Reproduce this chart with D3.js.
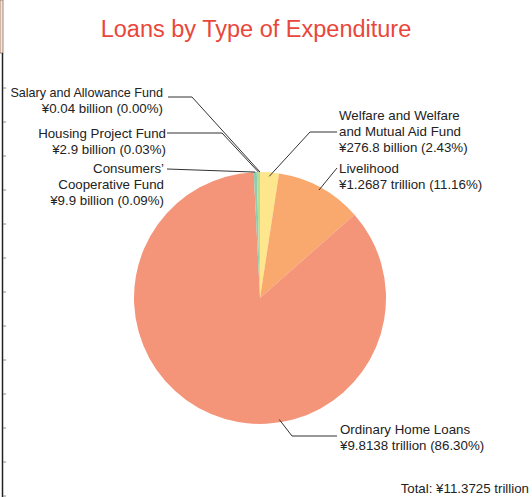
<!DOCTYPE html>
<html>
<head>
<meta charset="utf-8">
<script src="https://cdn.jsdelivr.net/npm/d3@7"></script>
<style>
  body { margin: 0; background: #fff; }
  svg { display: block; font-family: "Liberation Sans", Arial, Helvetica, sans-serif; }
</style>
</head>
<body>
<script>
// data (billions of yen), in drawing order clockwise from 12 o'clock
var categories = ["Welfare and Welfare and Mutual Aid Fund", "Livelihood", "Ordinary Home Loans",
                  "Consumers’ Cooperative Fund", "Housing Project Fund", "Salary and Allowance Fund"];
var values = [276.8, 1268.7, 9813.8, 9.9, 2.9, 0.04];
var amountLabels = ["¥276.8 billion", "¥1.2687 trillion", "¥9.8138 trillion",
                    "¥9.9 billion", "¥2.9 billion", "¥0.04 billion"];
var percentLabels = ["2.43%", "11.16%", "86.30%", "0.09%", "0.03%", "0.00%"];
var nameLines = [["Welfare and Welfare", "and Mutual Aid Fund"], ["Livelihood"], ["Ordinary Home Loans"],
                 ["Consumers’", "Cooperative Fund"], ["Housing Project Fund"], ["Salary and Allowance Fund"]];
var totalLabel = "Total: ¥11.3725 trillion";
var title = "Loans by Type of Expenditure";

var width = 532, height = 497;
var cx = 260, cy = 298, radius = 126;

var colors = d3.scaleOrdinal()
    .domain(categories)
    .range(["#fde68b", "#f9a86e", "#f4957a", "#8ecdab", "#b6dc9c", "#cfe6b0"]);

// label placement: text anchor point, elbow, and where the leader touches the pie
var labelLayout = [
  {x: 339, y: 120, anchor: "start", elbow: [310, 132], start: [337, 132], r: 122},
  {x: 339, y: 173, anchor: "start", elbow: null, start: [337, 168], r: 123},
  {x: 340, y: 434, anchor: "start", elbow: [292, 436], start: [337, 436], r: 123, angle: 171},
  {x: 164, y: 173, anchor: "end", elbow: null, start: [167, 169], r: 126},
  {x: 166, y: 138, anchor: "end", elbow: [222, 133], start: [167, 133], r: 126},
  {x: 163, y: 97, anchor: "end", elbow: [192, 97], start: [168, 97], r: 126, nameSize: 12.6}
];

var svg = d3.select("body").append("svg")
    .attr("width", width)
    .attr("height", height);

// page edge left over from the scan
var edge = svg.append("g");
edge.append("rect").attr("x", 0).attr("y", 0).attr("width", 3).attr("height", 53)
    .attr("fill", "#fbe4d6").attr("stroke", "#8a6f63").attr("stroke-width", 0.8);
edge.append("line").attr("x1", 2.5).attr("x2", 2.5).attr("y1", 53).attr("y2", height)
    .attr("stroke", "#222").attr("stroke-width", 1.5);
edge.selectAll(".tick").data(d3.range(88, height, 34)).enter().append("line")
    .attr("x1", 3).attr("x2", 6).attr("y1", function (d) { return d; }).attr("y2", function (d) { return d; })
    .attr("stroke", "#888").attr("stroke-width", 1);

svg.append("text")
    .attr("x", 256)
    .attr("y", 37)
    .attr("text-anchor", "middle")
    .attr("fill", "#e9473b")
    .style("font-size", "23.5px")
    .text(title);

// tiny (but non-zero %) slices get a minimum sweep so they stay visible
var total = d3.sum(values);
var pie = d3.pie()
    .sort(null)
    .value(function (d, i) {
      var v = values[i];
      return v / total >= 0.00005 ? Math.max(v, total * 0.004) : v;
    });
var arcs = pie(categories);

var arc = d3.arc().innerRadius(0).outerRadius(radius);

var g = svg.append("g").attr("transform", "translate(" + cx + "," + cy + ")");
g.selectAll("path").data(arcs).enter().append("path")
    .attr("d", arc)
    .attr("fill", function (d) { return colors(d.data); });

// leader lines
function pointAt(angleRad, r) {
  return [cx + r * Math.sin(angleRad), cy - r * Math.cos(angleRad)];
}
arcs.forEach(function (a, i) {
  var L = labelLayout[i];
  var ang = L.angle !== undefined ? L.angle * Math.PI / 180 : (a.startAngle + a.endAngle) / 2;
  var p = pointAt(ang, L.r);
  var pts = [p];
  if (L.elbow) pts.push(L.elbow);
  pts.push(L.start);
  svg.append("path")
      .attr("d", d3.line()(pts))
      .attr("fill", "none")
      .attr("stroke", "#333")
      .attr("stroke-width", 1);

  var t = svg.append("text")
      .attr("text-anchor", L.anchor)
      .attr("fill", "#222")
      .style("font-size", "13.3px");
  var lines = nameLines[i].concat([amountLabels[i] + " (" + percentLabels[i] + ")"]);
  lines.forEach(function (s, j) {
    var ts = t.append("tspan").attr("x", L.x).attr("y", L.y + j * 16.2).text(s);
    if (L.nameSize && j < nameLines[i].length) ts.style("font-size", L.nameSize + "px");
  });
});

svg.append("text")
    .attr("x", 529)
    .attr("y", 493)
    .attr("text-anchor", "end")
    .attr("fill", "#222")
    .style("font-size", "13.3px")
    .text(totalLabel);
</script>
</body>
</html>
